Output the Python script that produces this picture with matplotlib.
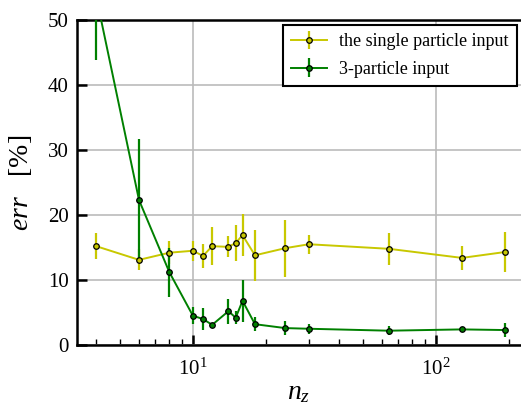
import matplotlib
matplotlib.use("Agg")
import matplotlib.pyplot as plt
from matplotlib.ticker import LogLocator, NullFormatter

nz = [4, 6, 8, 10, 11, 12, 14, 15, 16, 18, 24, 30, 64, 128, 192]
single_err = [15.2, 13.1, 14.2, 14.5, 13.7, 15.2, 15.1, 15.7, 16.9, 13.8, 14.9, 15.5, 14.8, 13.4, 14.3]
single_unc = [2.0, 1.6, 1.8, 1.5, 1.8, 2.9, 1.6, 2.8, 3.2, 3.9, 4.4, 1.5, 2.5, 1.8, 3.1]
three_err = [53.6, 22.3, 11.2, 4.5, 4.0, 3.1, 5.2, 4.2, 6.8, 3.2, 2.6, 2.5, 2.2, 2.4, 2.3]
three_unc = [9.8, 9.4, 3.8, 1.3, 1.7, 0.3, 1.9, 1.0, 3.2, 1.1, 1.1, 0.8, 0.7, 0.4, 1.1]
labels = ["the single particle input", "3-particle input"]

plt.rcParams["font.family"] = ["Liberation Serif", "DejaVu Serif"]
plt.rcParams["mathtext.fontset"] = "custom"
plt.rcParams["mathtext.it"] = "Liberation Serif:italic"
plt.rcParams["mathtext.rm"] = "Liberation Serif"

fig = plt.figure(figsize=(5.21, 4.09), dpi=100)
ax = fig.add_axes([77/521, 64/409, 444/521, 325/409])

ycol = "#c8c800"
gcol = "#008000"
ax.errorbar(nz, single_err, yerr=single_unc, color=ycol, ecolor=ycol, lw=1.4,
            elinewidth=1.6, marker="o", ms=4, mfc=ycol, mec="black", mew=0.9,
            label=labels[0], zorder=3)
ax.errorbar(nz, three_err, yerr=three_unc, color=gcol, ecolor=gcol, lw=1.4,
            elinewidth=1.6, marker="o", ms=4, mfc=gcol, mec="black", mew=0.9,
            label=labels[1], zorder=3)

ax.set_xscale("log")
ax.set_xlim(10**0.523, 10**2.350)
ax.set_ylim(0, 50)
ax.set_yticks([0, 10, 20, 30, 40, 50])
ax.grid(True, which="major", color="#bbbbbb", lw=1.2)
ax.set_axisbelow(True)
ax.xaxis.set_minor_locator(LogLocator(base=10, subs=range(2, 10), numticks=20))
ax.xaxis.set_minor_formatter(NullFormatter())
ax.tick_params(which="major", direction="in", length=7, width=1.8, labelsize=15, pad=6)
ax.tick_params(which="minor", direction="in", length=4, width=1.0)
ax.tick_params(axis="x", which="major", pad=10)
for s in ["left", "bottom", "top"]:
    ax.spines[s].set_linewidth(1.8)
ax.spines["right"].set_visible(False)

ax.set_xlabel(r"$n_z$", fontsize=20, labelpad=0)
ax.set_ylabel(r"$err$   [%]", fontsize=20, labelpad=10)

leg = ax.legend(loc="upper right", bbox_to_anchor=(440/444, 0.985), fontsize=13,
                frameon=True, fancybox=False, edgecolor="black", framealpha=1,
                handlelength=2.0, handletextpad=0.7, borderpad=0.45,
                labelspacing=0.6, borderaxespad=0)
leg.get_frame().set_linewidth(1.5)

fig.savefig("out.png", dpi=100)
